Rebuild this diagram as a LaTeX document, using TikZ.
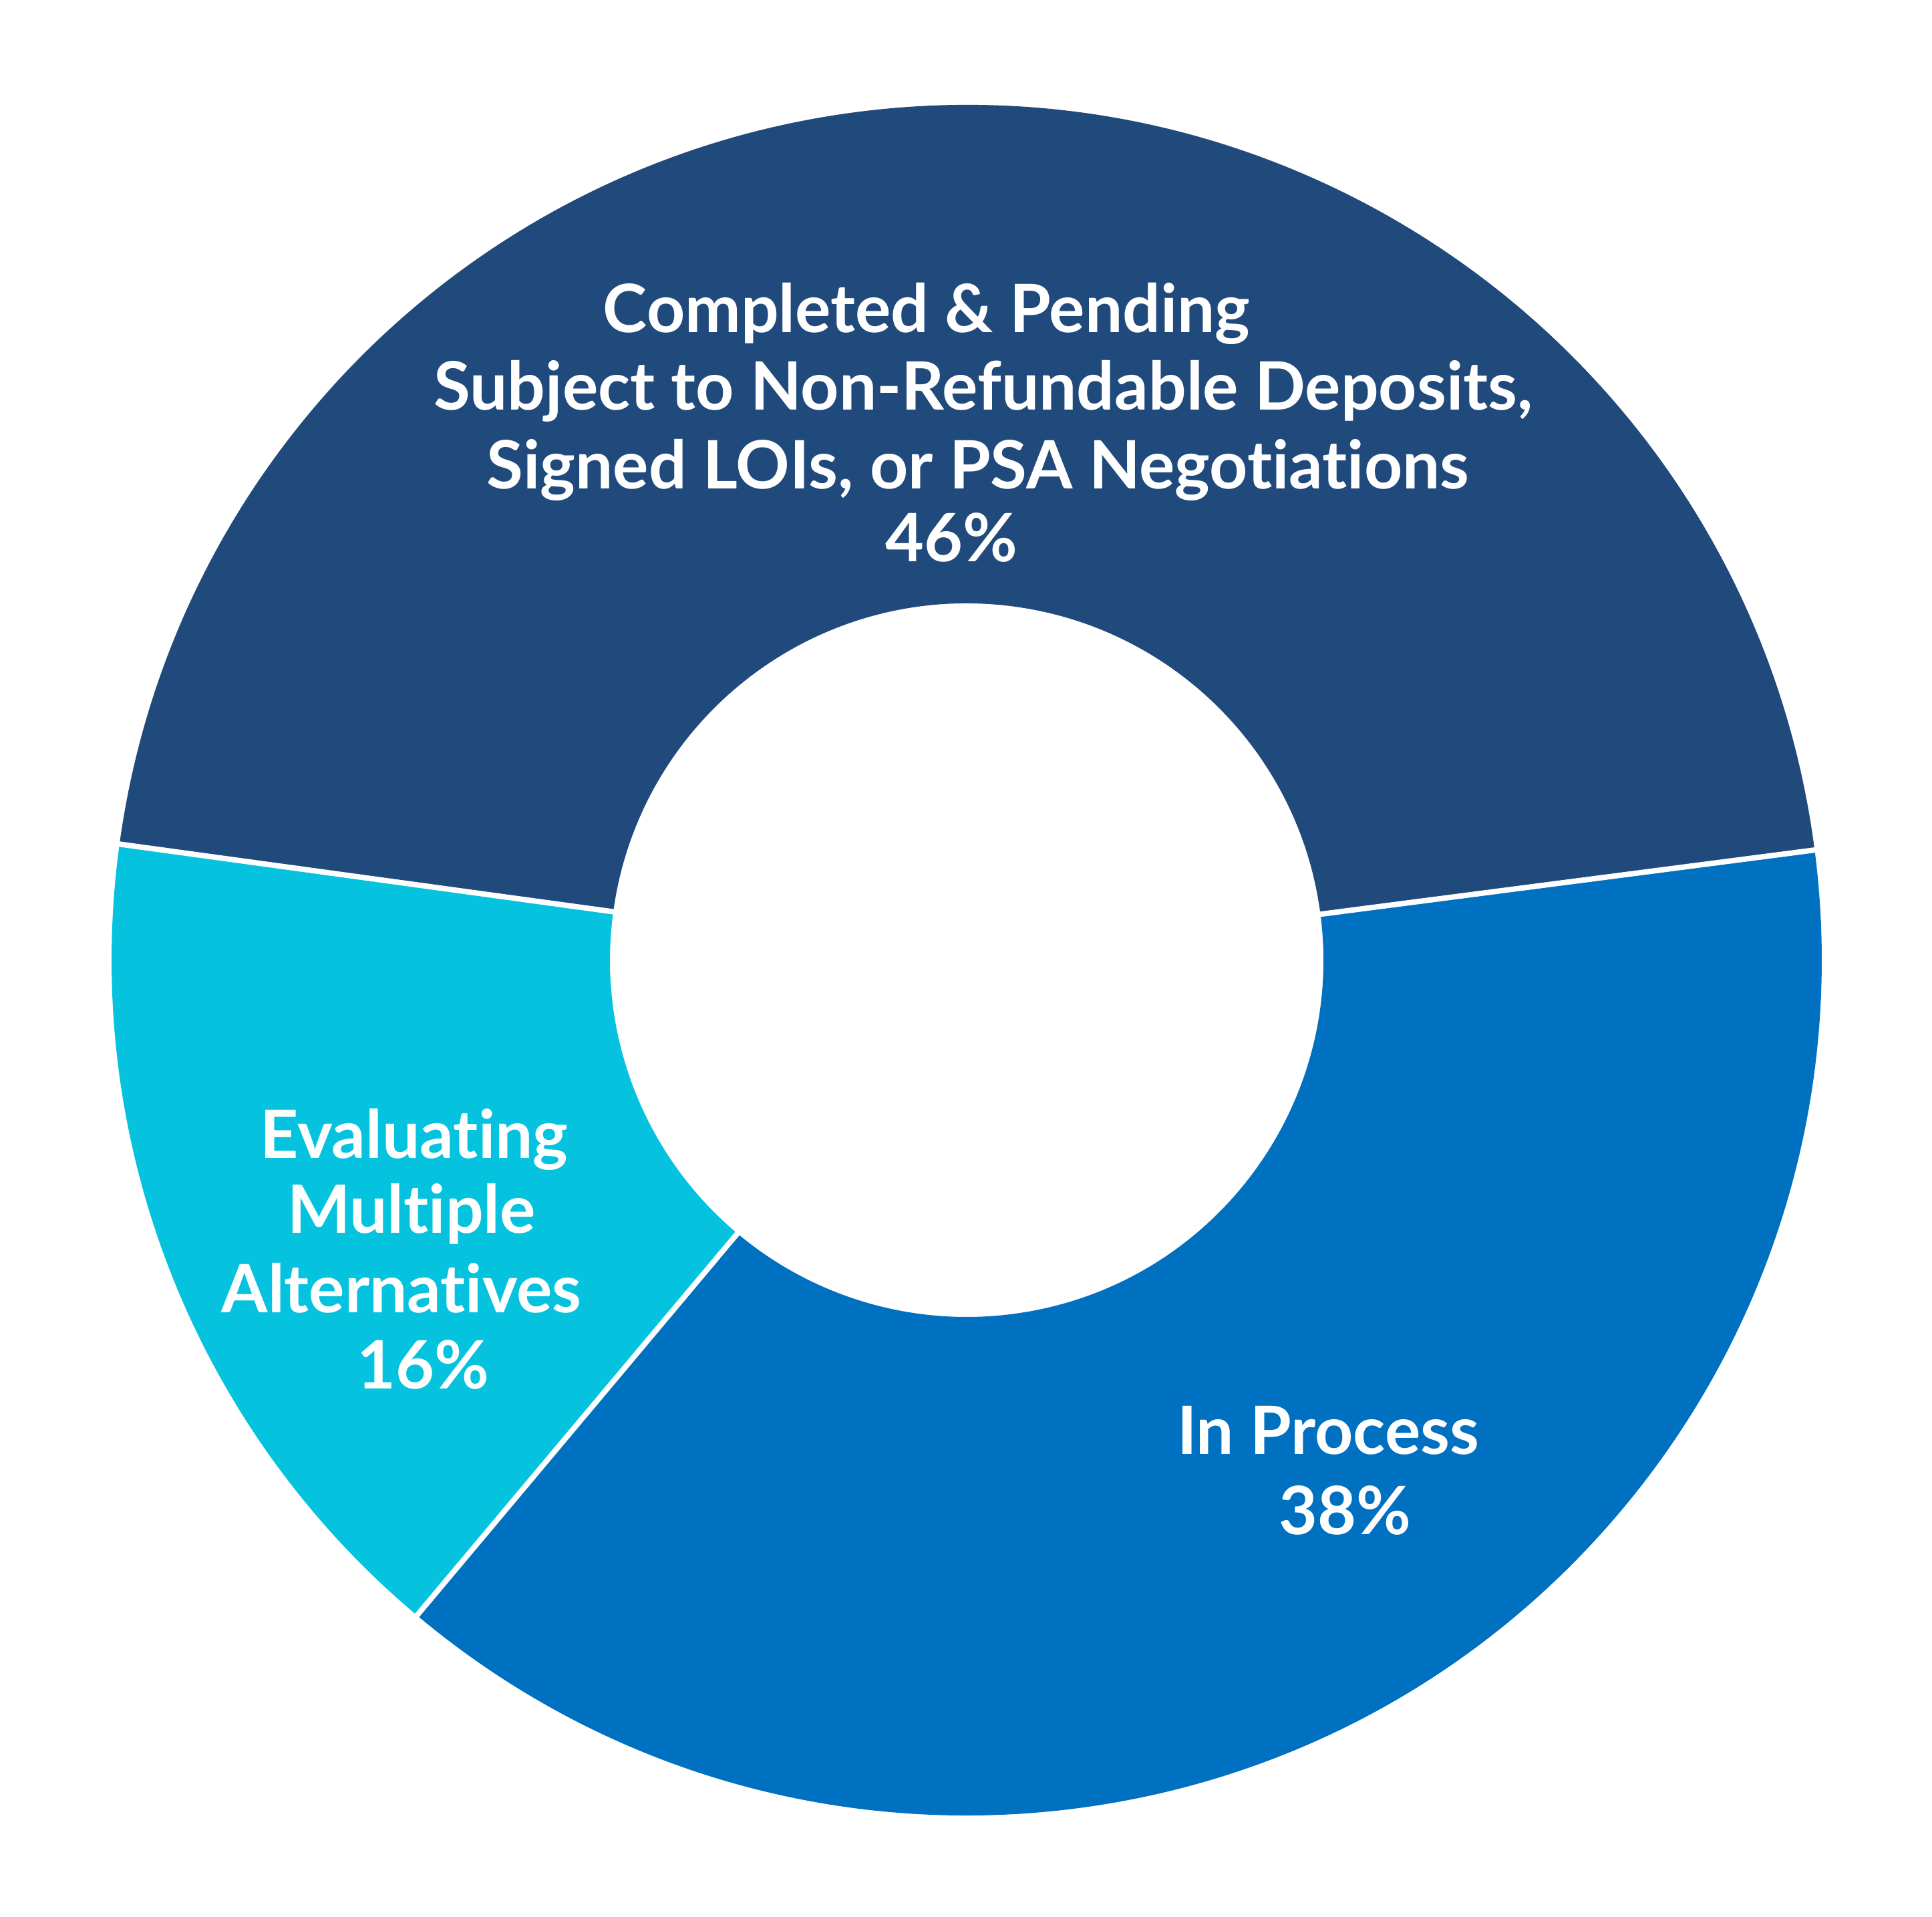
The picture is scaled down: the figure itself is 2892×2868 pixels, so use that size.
\documentclass[tikz,border=0pt]{standalone}
\usepackage{fontspec}
\setmainfont{Lato}[Ligatures={NoCommon,NoRare,NoContextual}]
\definecolor{navy}{RGB}{32,73,124}
\definecolor{midblue}{RGB}{0,112,192}
\definecolor{cyanx}{RGB}{5,195,222}
\tikzset{
  lbl/.style={anchor=base, text=white, font=\fontsize{28.4}{33}\selectfont\bfseries, inner sep=0pt},
  sep/.style={draw=white, line width=2.3pt}
}
\newcommand{\ringseg}[3]{%
  \fill[#3] (#1:1280) arc[start angle=#1, end angle=#2, radius=1280]
    -- (#2:534) arc[start angle=#2, end angle=#1, radius=534] -- cycle;}
\begin{document}
\begin{tikzpicture}[x=0.01cm,y=0.01cm]
\useasboundingbox (0,0) rectangle (2892,2868);
\fill[white] (0,0) rectangle (2892,2868);
\begin{scope}[shift={(1447,1431)}]
  \ringseg{7.4}{172.2}{navy}
  \ringseg{172.2}{230}{cyanx}
  \ringseg{230}{367.4}{midblue}
  \coordinate (s1a) at (7.4:520); \coordinate (s1b) at (7.4:1300);
  \coordinate (s2a) at (172.2:520); \coordinate (s2b) at (172.2:1300);
  \coordinate (s3a) at (230:520); \coordinate (s3b) at (230:1300);
  \draw[sep] (s1a) -- (s1b);
  \draw[sep] (s2a) -- (s2b);
  \draw[sep] (s3a) -- (s3b);
\end{scope}
\node[lbl] (t1) at (1387,2370) {Completed \& Pending};
\node[lbl] (t2) at (1472,2254) {Subject to Non-Refundable Deposits,};
\node[lbl] (t3) at (1464,2136) {Signed LOIs, or PSA Negotiations};
\node[lbl] (t4) at (1424,2027) {46\%};
\node[lbl] (e1) at (620,1135) {Evaluating};
\node[lbl] (e2) at (616,1023) {Multiple};
\node[lbl] (e3) at (601,904) {Alternatives};
\node[lbl] (e4) at (633,790) {16\%};
\node[lbl] (p1) at (1988,692) {In Process};
\node[lbl] (p2) at (2013,572) {38\%};
\end{tikzpicture}
\end{document}
